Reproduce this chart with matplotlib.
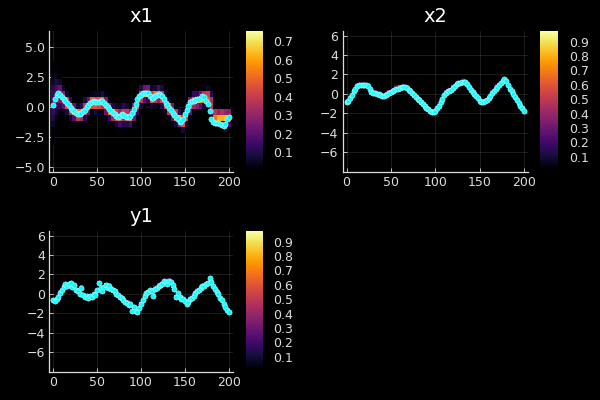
import math
import numpy as np
import matplotlib
matplotlib.use("Agg")
import matplotlib.pyplot as plt
from matplotlib.colors import Normalize

# time steps of the markers (every 2nd step)
steps = np.arange(0, 201, 2)

x1_true = [0.15, 0.6, 0.95, 1.15, 1.0, 0.8, 0.6, 0.45, 0.3, 0.1,
           -0.1, -0.25, -0.4, -0.55, -0.6, -0.65, -0.55, -0.4, -0.25, -0.05,
           0.1, 0.3, 0.4, 0.45, 0.4, 0.35, 0.4, 0.45, 0.45, 0.3,
           0.1, 0.0, -0.2, -0.35, -0.5, -0.65, -0.75, -0.85, -0.75, -0.65,
           -0.7, -0.75, -0.85, -0.9, -0.75, -0.5, -0.2, 0.2, 0.6, 0.85,
           1.0, 1.1, 1.15, 1.1, 1.15, 0.9, 0.75, 0.7, 0.85, 1.0,
           1.05, 1.0, 0.85, 0.6, 0.3, 0.1, -0.15, -0.3, -0.5, -0.7,
           -0.85, -1.05, -1.25, -1.2, -1.0, -0.6, -0.3, 0.05, 0.35, 0.45,
           0.5, 0.55, 0.6, 0.65, 0.75, 0.85, 0.8, 0.5, 0.2, -0.4,
           -1.0, -1.3, -1.4, -1.4, -1.35, -1.45, -1.5, -1.6, -1.45, -1.0,
           -0.85]

x2_true = [-0.85, -0.7, -0.45, -0.1, 0.25, 0.55, 0.78, 0.88, 0.92, 0.9,
           0.95, 0.93, 0.85, 0.55, 0.2, 0.05, 0.05, -0.05, -0.05, -0.15,
           -0.25, -0.25, -0.15, 0.0, 0.1, 0.2, 0.3, 0.45, 0.55, 0.55,
           0.65, 0.7, 0.72, 0.68, 0.6, 0.45, 0.3, 0.1, -0.1, -0.3,
           -0.5, -0.65, -0.85, -1.05, -1.25, -1.45, -1.6, -1.75, -1.82, -1.85,
           -1.75, -1.5, -1.2, -0.85, -0.5, -0.15, 0.1, 0.25, 0.35, 0.45,
           0.65, 0.85, 1.0, 1.1, 1.15, 1.2, 1.25, 1.25, 1.0, 0.75,
           0.45, 0.2, -0.05, -0.25, -0.45, -0.7, -0.88, -0.85, -0.75, -0.6,
           -0.45, -0.2, 0.05, 0.3, 0.55, 0.75, 0.9, 1.1, 1.3, 1.5,
           1.3, 0.9, 0.55, 0.25, -0.05, -0.35, -0.65, -0.9, -1.2, -1.5,
           -1.75]

y1_obs = [-0.65, -0.7, -0.55, -0.3, 0.1, 0.45, 0.75, 1.0, 0.85, 1.05,
          1.15, 0.7, 0.9, 0.45, 0.3, 0.0, 0.6, -0.1, -0.3, -0.2,
          -0.45, -0.25, -0.35, -0.05, -0.1, 0.45, 1.1, 0.6, 0.3, 0.75,
          0.95, 0.6, 0.85, 0.55, 0.4, 0.3, 0.0, -0.1, -0.3, -0.45,
          -0.65, -0.85, -0.9, -1.15, -1.0, -1.8, -1.3, -1.75, -1.9, -1.5,
          -1.0, -0.6, -0.2, 0.1, 0.2, 0.4, 0.3, -0.2, 0.55, 0.6,
          0.8, 0.9, 1.05, 1.3, 1.2, 1.05, 1.3, 1.25, 0.9, 0.55,
          -0.3, 0.1, -0.3, -0.55, -0.5, -0.75, -1.0, -0.85, -0.5, -0.4,
          -0.2, 0.05, 0.25, 0.4, 0.6, 0.8, 0.85, 1.05, 1.15, 1.6,
          1.2, 0.8, 0.5, 0.2, -0.05, -0.4, -0.6, -1.0, -1.3, -1.65,
          -1.85]

# posterior band for the heatmaps (every 4th step)
hm_steps = np.arange(0, 201, 4)

x1_mean = [0.4, 0.9, 1.0, 0.65, 0.3, -0.1, -0.4, -0.6, -0.55, -0.2,
           0.1, 0.35, 0.3, 0.35, 0.4, 0.1, -0.3, -0.55, -0.7, -0.8,
           -0.65, -0.7, -0.85, -0.4, 0.2, 0.85, 1.1, 1.15, 0.8, 0.9,
           1.0, 0.8, 0.35, -0.1, -0.4, -0.75, -1.0, -1.2, -0.7, 0.1,
           0.45, 0.5, 0.6, 0.75, 0.8, 0.3, -0.75, -0.8, -0.75, -0.8,
           -0.85]
x1_sd = [1.2, 0.9, 0.6, 0.45, 0.35, 0.4, 0.3, 0.28, 0.32, 0.4,
         0.35, 0.28, 0.33, 0.3, 0.32, 0.4, 0.33, 0.28, 0.35, 0.4,
         0.42, 0.38, 0.33, 0.4, 0.35, 0.38, 0.32, 0.28, 0.33, 0.3,
         0.35, 0.38, 0.33, 0.3, 0.35, 0.3, 0.28, 0.33, 0.4, 0.4,
         0.35, 0.3, 0.33, 0.28, 0.33, 0.45, 0.3, 0.25, 0.22, 0.25,
         0.35]
x2_sd = 0.1
y1_sd = 0.1

FG = "#dddddd"
cdf = np.frompyfunc(lambda z: 0.5 * (1 + math.erf(z / math.sqrt(2))), 1, 1)


def cell_probs(mean, sd, y_edges):
    m = np.asarray(mean, dtype=float)[None, :]
    s = np.broadcast_to(np.asarray(sd, dtype=float), m.shape[1:])[None, :]
    c = cdf((y_edges[:, None] - m) / s).astype(float)
    p = np.diff(c, axis=0)
    return np.ma.masked_less(p, 0.003)


def panel(fig, ax_rect, cb_rect, title, vals, mean, sd, bin_w, ylim, yticks,
          clim, cticks):
    ax = fig.add_axes(ax_rect)
    ax.set_facecolor("black")
    t_edges = np.append(hm_steps - 2, hm_steps[-1] + 2)
    y_edges = np.arange(ylim[0] - bin_w / 2, ylim[1] + bin_w, bin_w)
    probs = cell_probs(mean, sd, y_edges)
    mesh = ax.pcolormesh(t_edges, y_edges, probs, cmap="inferno",
                         norm=Normalize(*clim), shading="flat",
                         edgecolors="none", antialiased=False, zorder=1)
    ax.scatter(steps, vals, s=14, c="#00ffff", edgecolors="#d0ffff",
               linewidths=0.4, zorder=3)
    ax.set_xlim(-4.5, 204.5)
    ax.set_ylim(*ylim)
    ax.set_xticks([0, 50, 100, 150, 200])
    ax.set_yticks(yticks)
    ax.grid(True, color="white", alpha=0.13, linewidth=0.6, zorder=0)
    ax.set_axisbelow(True)
    for side in ("top", "right"):
        ax.spines[side].set_visible(False)
    for side in ("left", "bottom"):
        ax.spines[side].set_color(FG)
        ax.spines[side].set_linewidth(0.9)
    ax.tick_params(direction="in", length=3, width=0.6, colors=FG,
                   labelsize=9, pad=3)
    ax.set_title(title, color="white", fontsize=14, pad=6)

    cax = fig.add_axes(cb_rect)
    cb = fig.colorbar(mesh, cax=cax)
    cb.outline.set_visible(False)
    cb.set_ticks(cticks)
    cax.tick_params(length=0, colors=FG, labelsize=9, pad=8)
    return ax


fig = plt.figure(figsize=(6, 4), dpi=100, facecolor="black")

panel(fig, [0.082, 0.571, 0.306, 0.352], [0.4095, 0.575, 0.028, 0.3475],
      "x1", x1_true, x1_mean, x1_sd, 0.5, (-5.42, 6.31),
      [-5.0, -2.5, 0.0, 2.5, 5.0], (0.005, 0.754),
      [0.1, 0.2, 0.3, 0.4, 0.5, 0.6, 0.7])

panel(fig, [0.571, 0.571, 0.309, 0.352], [0.90, 0.575, 0.0295, 0.3475],
      "x2", x2_true, x2_true[::2], x2_sd, 0.25, (-8.0, 6.5),
      [-6, -4, -2, 0, 2, 4, 6], (0.007, 0.974),
      [0.1, 0.2, 0.3, 0.4, 0.5, 0.6, 0.7, 0.8, 0.9])

panel(fig, [0.082, 0.071, 0.306, 0.352], [0.4095, 0.075, 0.028, 0.3475],
      "y1", y1_obs, y1_obs[::2], y1_sd, 0.25, (-8.0, 6.5),
      [-6, -4, -2, 0, 2, 4, 6], (0.007, 0.974),
      [0.1, 0.2, 0.3, 0.4, 0.5, 0.6, 0.7, 0.8, 0.9])

fig.savefig("out.png", dpi=100, facecolor="black")
